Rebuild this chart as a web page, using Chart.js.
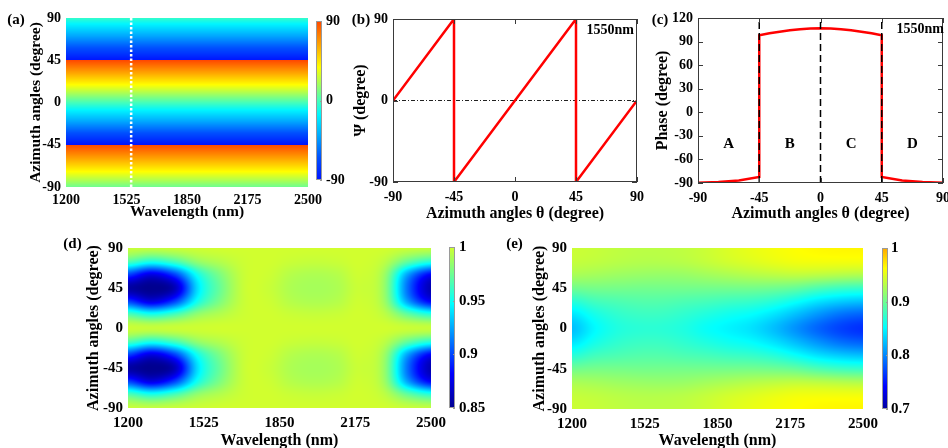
<!DOCTYPE html>
<html>
<head>
<meta charset="utf-8">
<script src="https://cdn.jsdelivr.net/npm/chart.js@4.4.1/dist/chart.umd.min.js"></script>
<style>
html, body { margin: 0; padding: 0; background: #fff; width: 948px; height: 448px; overflow: hidden; position: relative; }
canvas { position: absolute; }
</style>
</head>
<body>
<canvas id="chartA" width="340" height="225" style="left:0;top:0"></canvas>
<canvas id="barA" width="40" height="200" style="left:310px;top:0"></canvas>
<canvas id="chartB" width="305" height="226" style="left:340px;top:0"></canvas>
<canvas id="chartC" width="303" height="226" style="left:645px;top:0"></canvas>
<canvas id="chartD" width="400" height="220" style="left:55px;top:230px"></canvas>
<canvas id="barD" width="50" height="200" style="left:443px;top:230px"></canvas>
<canvas id="chartE" width="385" height="220" style="left:500px;top:230px"></canvas>
<canvas id="barE" width="72" height="200" style="left:876px;top:230px"></canvas>
<script>
// ---- data ----
// (a) Psi colour map, only depends on azimuth
const mapTheta = [-90, -45, -45, 45, 45, 90];
const mapPsi = [8, 90, -90, 90, -90, -4];
const markWavelength = 1550;

// (b) Psi at 1550 nm
const psiTheta = [-90, -45, -45, 45, 45, 90];
const psiValue = [0, 90, -90, 90, -90, 0];

// (c) phase at 1550 nm
const phaseTheta = [-90, -75, -60, -45, -45, -37.5, -30, -22.5, -15, -7.5, 0, 7.5, 15, 22.5, 30, 37.5, 45, 45, 60, 75, 90];
const phaseValue = [-89.6, -88.8, -86.8, -82.3, 98, 100.5, 102.6, 104.3, 105.7, 106.7, 107, 106.7, 105.7, 104.3, 102.6, 100.5, 98, -82.3, -86.8, -88.8, -89.6];
const boundaryTheta = [-45, 0, 45];
const regionNames = ['A', 'B', 'C', 'D'];
const regionTheta = [-67.5, -22.5, 22.5, 67.5];
const regionPhase = -40;

// (d), (e) sample grid
const lambdaGrid = [1200, 1300, 1400, 1500, 1600, 1700, 1800, 1900, 2000, 2100, 2200, 2300, 2400, 2500];
const thetaGrid = [-90, -75, -60, -45, -30, -15, 0, 15, 30, 45, 60, 75, 90];

// (d) rows by |azimuth| (pattern repeats every 90 degrees)
const dRow0  = [0.998, 0.997, 0.998, 0.999, 1.000, 1.000, 1.000, 1.000, 1.000, 1.000, 1.000, 1.000, 0.998, 0.997];
const dRow15 = [0.968, 0.955, 0.966, 0.985, 0.993, 0.999, 1.000, 0.998, 0.997, 0.998, 1.000, 0.995, 0.973, 0.958];
const dRow30 = [0.898, 0.874, 0.898, 0.952, 0.980, 0.998, 0.999, 0.993, 0.991, 0.993, 0.999, 0.987, 0.923, 0.881];
const dRow45 = [0.856, 0.850, 0.862, 0.940, 0.975, 0.998, 0.998, 0.991, 0.989, 0.991, 0.998, 0.985, 0.910, 0.860];
const dField = [dRow0, dRow15, dRow30, dRow45, dRow30, dRow15, dRow0, dRow15, dRow30, dRow45, dRow30, dRow15, dRow0];

// (e) rows by |azimuth|
const eRow0  = [0.825, 0.850, 0.865, 0.870, 0.870, 0.865, 0.855, 0.848, 0.840, 0.825, 0.805, 0.785, 0.770, 0.762];
const eRow15 = [0.840, 0.860, 0.872, 0.877, 0.877, 0.872, 0.865, 0.858, 0.852, 0.840, 0.823, 0.805, 0.790, 0.783];
const eRow30 = [0.868, 0.880, 0.885, 0.888, 0.888, 0.885, 0.882, 0.878, 0.875, 0.868, 0.855, 0.840, 0.830, 0.825];
const eRow45 = [0.900, 0.903, 0.903, 0.902, 0.902, 0.902, 0.902, 0.902, 0.902, 0.900, 0.895, 0.885, 0.878, 0.875];
const eRow60 = [0.925, 0.923, 0.920, 0.918, 0.917, 0.918, 0.922, 0.926, 0.930, 0.933, 0.935, 0.933, 0.930, 0.928];
const eRow75 = [0.937, 0.935, 0.932, 0.930, 0.930, 0.932, 0.937, 0.943, 0.948, 0.953, 0.957, 0.958, 0.958, 0.958];
const eRow90 = [0.940, 0.938, 0.935, 0.933, 0.933, 0.935, 0.940, 0.947, 0.953, 0.958, 0.962, 0.965, 0.966, 0.966];
const eField = [eRow90, eRow75, eRow60, eRow45, eRow30, eRow15, eRow0, eRow15, eRow30, eRow45, eRow60, eRow75, eRow90];

// colour maps [position, r, g, b]
const stopsA = [[0, 0, 20, 255], [0.14, 0, 80, 255], [0.28, 0, 170, 255], [0.41, 0, 245, 255], [0.5, 70, 255, 185],
                [0.6, 160, 255, 95], [0.71, 255, 255, 0], [0.85, 255, 165, 0], [1, 255, 72, 0]];
const stopsD = [[0, 0, 0, 143], [0.2155, 0, 0, 255], [0.6466, 0, 255, 255], [1, 209, 255, 46]];
const stopsE = [[0, 0, 0, 158], [0.14, 0, 0, 255], [0.507, 0, 255, 255], [0.875, 255, 255, 0], [1, 255, 168, 0]];

Chart.defaults.font.family = "'Liberation Serif', 'Times New Roman', serif";
Chart.defaults.font.weight = 'bold';
Chart.defaults.font.size = 14;
Chart.defaults.color = '#000';

function colour(stops, t) {
  t = Math.max(0, Math.min(1, t));
  for (let i = 1; i < stops.length; i++) {
    if (t <= stops[i][0]) {
      const a = stops[i - 1], b = stops[i];
      const f = (t - a[0]) / (b[0] - a[0]);
      return [1, 2, 3].map(k => Math.round(a[k] + (b[k] - a[k]) * f));
    }
  }
  return stops[stops.length - 1].slice(1);
}

function segment(xs, x) {
  let i = 0;
  while (i < xs.length - 2 && (x > xs[i + 1] || xs[i + 1] === xs[i])) i++;
  const f = (x - xs[i]) / (xs[i + 1] - xs[i]);
  return [i, Math.max(0, Math.min(1, f))];
}

function cubic(p0, p1, p2, p3, t) {
  return p1 + 0.5 * t * (p2 - p0 + t * (2 * p0 - 5 * p1 + 4 * p2 - p3 + t * (3 * (p1 - p2) + p3 - p0)));
}

const plain = v => String(+(+v).toFixed(2));

function fitY(w) { return s => { s.width = w; s.paddingTop = 0; s.paddingBottom = 0; }; }
function fitX(h) { return s => { s.height = h; s.paddingLeft = 0; s.paddingRight = 0; }; }

function pts(xs, ys) { return xs.map((x, i) => ({ x: x, y: ys[i] })); }

function tag(text, x, y) {
  return {
    id: 'tag',
    afterDraw(chart) {
      const ctx = chart.ctx;
      ctx.save();
      ctx.font = "bold 15px 'Liberation Serif', serif";
      ctx.fillStyle = '#000';
      ctx.textAlign = 'center';
      ctx.textBaseline = 'middle';
      ctx.fillText(text, x, y);
      ctx.restore();
    }
  };
}

// shade the plot area, value per pixel from the samples through the scales
function fieldPlugin(fn, stops, lo, hi) {
  return {
    id: 'field',
    beforeDatasetsDraw(chart) {
      const { ctx, chartArea: a, scales: { x, y } } = chart;
      const L = Math.round(a.left), T = Math.round(a.top);
      const w = Math.round(a.right) - L, h = Math.round(a.bottom) - T;
      const img = ctx.createImageData(w, h);
      for (let j = 0; j < h; j++) {
        const th = y.getValueForPixel(T + j + 0.5);
        for (let i = 0; i < w; i++) {
          const wl = x.getValueForPixel(L + i + 0.5);
          const c = colour(stops, (fn(wl, th) - lo) / (hi - lo));
          const k = (j * w + i) * 4;
          img.data[k] = c[0]; img.data[k + 1] = c[1]; img.data[k + 2] = c[2]; img.data[k + 3] = 255;
        }
      }
      ctx.putImageData(img, L, T);
    }
  };
}

function stripValue(wl, th) {
  const [i, f] = segment(mapTheta, th);
  return mapPsi[i] + (mapPsi[i + 1] - mapPsi[i]) * f;
}

function gridValue(field) {
  const nx = lambdaGrid.length, ny = thetaGrid.length;
  const at = (j, i) => field[Math.max(0, Math.min(ny - 1, j))][Math.max(0, Math.min(nx - 1, i))];
  return (wl, th) => {
    const [i, fx] = segment(lambdaGrid, wl);
    const [j, fy] = segment(thetaGrid, th);
    const rows = [-1, 0, 1, 2].map(d => cubic(at(j + d, i - 1), at(j + d, i), at(j + d, i + 1), at(j + d, i + 2), fx));
    return cubic(rows[0], rows[1], rows[2], rows[3], fy);
  };
}

function boxPlugin() {
  return {
    id: 'box',
    afterDraw(chart) {
      const { ctx, chartArea: a, scales: { x, y } } = chart;
      ctx.save();
      ctx.strokeStyle = '#3a3a3a';
      ctx.lineWidth = 1;
      ctx.strokeRect(a.left + 0.5, a.top + 0.5, a.right - a.left - 1, a.bottom - a.top - 1);
      ctx.beginPath();
      x.ticks.forEach(t => {
        const p = Math.round(x.getPixelForValue(t.value)) + 0.5;
        ctx.moveTo(p, a.bottom); ctx.lineTo(p, a.bottom - 5);
        ctx.moveTo(p, a.top); ctx.lineTo(p, a.top + 5);
      });
      y.ticks.forEach(t => {
        const p = Math.round(y.getPixelForValue(t.value)) + 0.5;
        ctx.moveTo(a.left, p); ctx.lineTo(a.left + 5, p);
        ctx.moveTo(a.right, p); ctx.lineTo(a.right - 5, p);
      });
      ctx.stroke();
      ctx.restore();
    }
  };
}

function notePlugin(text, dx) {
  return {
    id: 'note',
    afterDraw(chart) {
      const { ctx, chartArea: a } = chart;
      ctx.save();
      ctx.font = "bold 14px 'Liberation Serif', serif";
      ctx.fillStyle = '#000';
      ctx.textAlign = 'right';
      ctx.textBaseline = 'middle';
      ctx.fillText(text, a.right + dx, a.top + 11);
      ctx.restore();
    }
  };
}

function heatOptions(pad, yW, xH, tickSize, titleSize, tickPad) {
  return {
    responsive: false, animation: false, devicePixelRatio: 1,
    layout: { padding: pad },
    plugins: { legend: { display: false }, tooltip: { enabled: false } },
    scales: {
      x: {
        type: 'linear', min: 1200, max: 2500,
        ticks: { stepSize: 325, padding: tickPad, maxRotation: 0, autoSkip: false, font: { size: tickSize }, callback: plain },
        grid: { display: false, drawTicks: false }, border: { display: false },
        title: { display: true, text: 'Wavelength (nm)', padding: 0, font: { size: titleSize } },
        afterFit: fitX(xH)
      },
      y: {
        type: 'linear', min: -90, max: 90,
        ticks: { stepSize: 45, padding: 5, autoSkip: false, font: { size: tickSize }, callback: plain },
        grid: { display: false, drawTicks: false }, border: { display: false },
        title: { display: true, text: 'Azimuth angles (degree)', padding: 0, font: { size: titleSize } },
        afterFit: fitY(yW)
      }
    }
  };
}

function lineOptions(pad, yW, xH, yMin, yMax, yStep, yTitle) {
  return {
    responsive: false, animation: false, devicePixelRatio: 1,
    layout: { padding: pad },
    plugins: { legend: { display: false }, tooltip: { enabled: false } },
    scales: {
      x: {
        type: 'linear', min: -90, max: 90,
        ticks: { stepSize: 45, padding: 7, maxRotation: 0, autoSkip: false, callback: plain },
        grid: { display: false, drawTicks: false }, border: { display: false },
        title: { display: true, text: 'Azimuth angles θ (degree)', padding: 0, font: { size: 16 } },
        afterFit: fitX(xH)
      },
      y: {
        type: 'linear', min: yMin, max: yMax,
        ticks: { stepSize: yStep, padding: 5, autoSkip: false, callback: plain },
        grid: { display: false, drawTicks: false }, border: { display: false },
        title: { display: true, text: yTitle, padding: 0, font: { size: 16 } },
        afterFit: fitY(yW)
      }
    }
  };
}

function colourBar(id, pad, yW, min, max, step, stops, tickSize, tickPad) {
  new Chart(document.getElementById(id), {
    type: 'scatter',
    data: { datasets: [] },
    options: {
      responsive: false, animation: false, devicePixelRatio: 1,
      layout: { padding: pad },
      plugins: { legend: { display: false }, tooltip: { enabled: false } },
      scales: {
        x: { type: 'linear', display: false, min: 0, max: 1 },
        y: {
          type: 'linear', position: 'right', min: min, max: max,
          ticks: { stepSize: step, padding: tickPad, autoSkip: false, font: { size: tickSize }, callback: plain },
          grid: { display: false, drawTicks: false }, border: { display: false },
          afterFit: fitY(yW)
        }
      }
    },
    plugins: [{
      id: 'bar',
      beforeDatasetsDraw(chart) {
        const { ctx, chartArea: a, scales: { y } } = chart;
        const g = ctx.createLinearGradient(0, y.getPixelForValue(min), 0, y.getPixelForValue(max));
        stops.forEach(s => g.addColorStop(s[0], `rgb(${s[1]},${s[2]},${s[3]})`));
        ctx.save();
        ctx.fillStyle = g;
        ctx.fillRect(a.left, a.top, a.right - a.left, a.bottom - a.top);
        ctx.strokeStyle = '#9a9a9a';
        ctx.lineWidth = 1;
        ctx.strokeRect(a.left + 0.5, a.top + 0.5, a.right - a.left - 1, a.bottom - a.top - 1);
        ctx.beginPath();
        y.ticks.forEach(t => {
          const p = Math.round(y.getPixelForValue(t.value)) + 0.5;
          ctx.moveTo(a.right, p); ctx.lineTo(a.right - 2, p);
        });
        ctx.stroke();
        ctx.restore();
      }
    }]
  });
}

// (a)
new Chart(document.getElementById('chartA'), {
  type: 'scatter',
  data: {
    datasets: [{
      data: pts([markWavelength, markWavelength], [-90, 90]),
      showLine: true, borderColor: '#ffffff', borderWidth: 2.5, borderDash: [2.5, 2], pointRadius: 0
    }]
  },
  options: heatOptions({ left: 27, top: 18, right: 32, bottom: 4 }, 39, 34, 14, 15.5, 5),
  plugins: [fieldPlugin(stripValue, stopsA, -90, 90), tag('(a)', 16, 20)]
});
colourBar('barA', { left: 6, top: 21, right: 4, bottom: 20 }, 24, -90, 90, 90, stopsA, 14, 4);

// (b)
new Chart(document.getElementById('chartB'), {
  type: 'scatter',
  data: {
    datasets: [
      { data: pts(psiTheta, psiValue), showLine: true, borderColor: '#ff0000', borderWidth: 2.5, pointRadius: 0 },
      { data: pts([-90, 90], [0, 0]), showLine: true, borderColor: '#222', borderWidth: 1, borderDash: [4, 2, 1, 2], pointRadius: 0 }
    ]
  },
  options: lineOptions({ left: 11, top: 19, right: 8, bottom: 3 }, 42, 41, -90, 90, 90, 'Ψ (degree)'),
  plugins: [boxPlugin(), notePlugin('1550nm', -3), tag('(b)', 21, 20)]
});

// (c)
const dashSets = boundaryTheta.map(t => ({
  data: pts([t, t], [-90, 120]), showLine: true, borderColor: '#000', borderWidth: 1.5, borderDash: [7, 4], pointRadius: 0
}));
new Chart(document.getElementById('chartC'), {
  type: 'scatter',
  data: {
    datasets: dashSets.concat([
      { data: pts(phaseTheta, phaseValue), showLine: true, borderColor: '#ff0000', borderWidth: 2.5, pointRadius: 0 }
    ])
  },
  options: lineOptions({ left: 8, top: 18, right: 5, bottom: 3 }, 45, 40, -90, 120, 30, 'Phase (degree)'),
  plugins: [boxPlugin(), notePlugin('1550nm', 1), tag('(c)', 15, 20), {
    id: 'regions',
    afterDatasetsDraw(chart) {
      const { ctx, scales: { x, y } } = chart;
      ctx.save();
      ctx.font = "bold 15px 'Liberation Serif', serif";
      ctx.fillStyle = '#000';
      ctx.textAlign = 'center';
      ctx.textBaseline = 'middle';
      regionNames.forEach((n, i) => ctx.fillText(n, x.getPixelForValue(regionTheta[i]), y.getPixelForValue(regionPhase)));
      ctx.restore();
    }
  }]
});

// (d)
new Chart(document.getElementById('chartD'), {
  type: 'scatter',
  data: { datasets: [] },
  options: heatOptions({ left: 29, top: 18, right: 24, bottom: 0 }, 44, 42, 15, 16, 6),
  plugins: [fieldPlugin(gridValue(dField), stopsD, 0.85, 1), tag('(d)', 17.5, 14)]
});
colourBar('barD', { left: 6, top: 17, right: 4, bottom: 22 }, 34, 0.85, 1, 0.05, stopsD, 15, 4);

// (e)
new Chart(document.getElementById('chartE'), {
  type: 'scatter',
  data: { datasets: [] },
  options: heatOptions({ left: 30, top: 18, right: 22, bottom: 0 }, 42, 41, 15, 16, 6),
  plugins: [fieldPlugin(gridValue(eField), stopsE, 0.7, 1), tag('(e)', 14.5, 14)]
});
colourBar('barE', { left: 6, top: 18, right: 30, bottom: 21 }, 30, 0.7, 1, 0.1, stopsE, 15, 3);
</script>
</body>
</html>
